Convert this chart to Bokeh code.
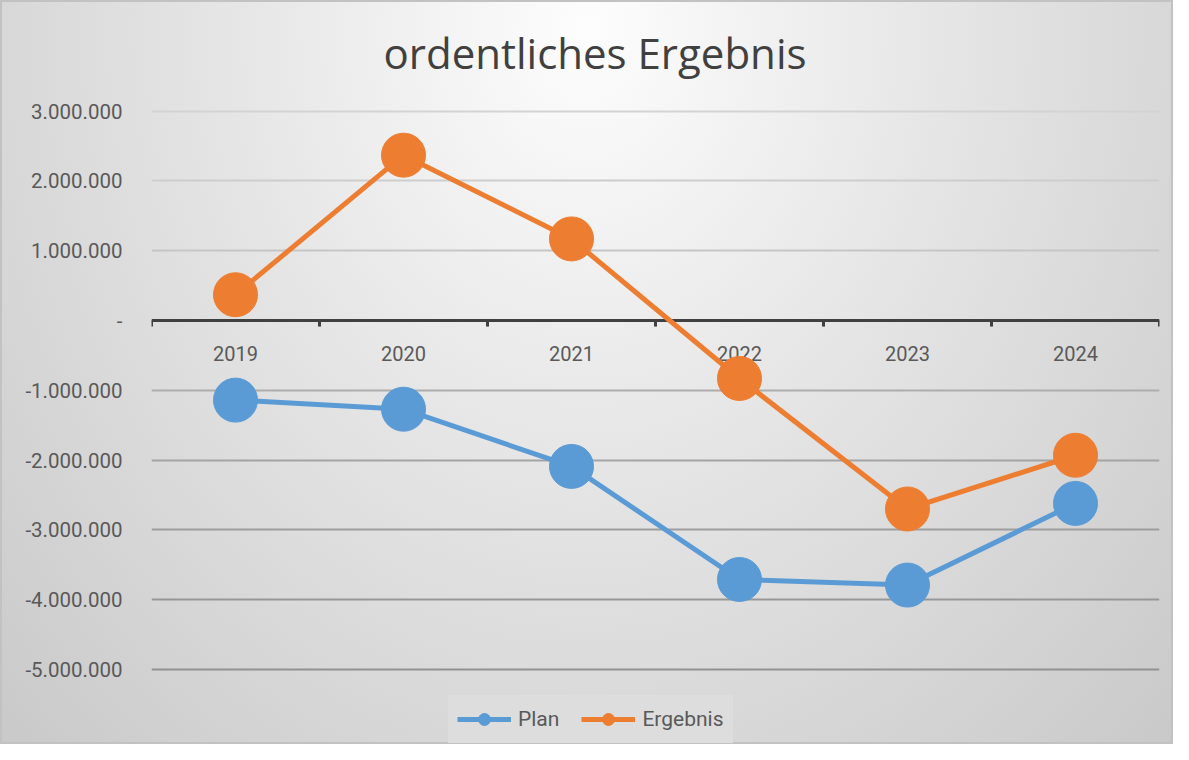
from bokeh.plotting import figure
from bokeh.models import Range1d, FixedTicker, Grid, Span, Legend, LegendItem, ColumnDataSource
from bokeh.core.properties import value
from bokeh.embed import file_html
from bokeh.resources import INLINE

# ---------------- data ----------------
years = ["2019", "2020", "2021", "2022", "2023", "2024"]
plan = [-1140000, -1270000, -2090000, -3710000, -3790000, -2620000]
ergebnis = [370000, 2370000, 1170000, -830000, -2700000, -1930000]

y_ticks = [3000000, 2000000, 1000000, 0, -1000000, -2000000, -3000000, -4000000, -5000000]
y_tick_labels = ["3.000.000", "2.000.000", "1.000.000", "-", "-1.000.000", "-2.000.000",
                 "-3.000.000", "-4.000.000", "-5.000.000"]
grid_colors = ["#d3d3d3", "#cdcdcd", "#c6c6c6", None, "#adadad", "#a4a4a4",
               "#9d9d9d", "#979797", "#929292"]

title_text = "ordentliches Ergebnis"
series_names = ["Plan", "Ergebnis"]
series_colors = ["#5B9BD5", "#ED7D31"]

# ---------------- layout ----------------
W, H = 1173, 744
axis_top_px, axis_bottom_px = 110.7, 669.0     # pixel rows of 3.000.000 and -5.000.000
frame_top_px = 100                              # frame starts a bit above the top gridline
ML, MR = 151, W - 1159
MT, MB = frame_top_px, 0
axis_min, axis_max = -5000000, 3000000
ppu = (axis_bottom_px - axis_top_px) / (axis_max - axis_min)
y_max = axis_max + (axis_top_px - frame_top_px) / ppu
y_min = axis_min - (H - axis_bottom_px) / ppu

n = len(years)
x_start, x_end = -0.5, n - 0.5

FONT = "Roboto"
LABEL_COLOR = "#595959"

p = figure(width=W, height=H, output_backend="svg", toolbar_location=None,
           x_range=Range1d(x_start, x_end), y_range=Range1d(y_min, y_max),
           min_border_left=ML, min_border_right=MR, min_border_top=MT, min_border_bottom=MB)

p.background_fill_alpha = 0
p.border_fill_alpha = 0
p.outline_line_color = None
p.styles = {
    "background": "radial-gradient(ellipse farthest-corner at 50% 4%, #fdfdfd 0%, #e6e6e6 42%, #c9c9c9 100%)",
    "box-shadow": "inset 0 0 0 2px #c2c2c2",
}

# title
p.title.text = title_text
p.title.align = "left"
p.title.offset = 232
p.title.text_font = "Open Sans"
p.title.text_font_style = "normal"
p.title.text_font_size = "42px"
p.title.text_color = "#404040"
p.title.standoff = 40

# axes
p.xaxis.visible = False
p.xgrid.visible = False
p.ygrid.visible = False
ya = p.yaxis[0]
ya.ticker = FixedTicker(ticks=y_ticks)
ya.major_label_overrides = {v: lab for v, lab in zip(y_ticks, y_tick_labels)}
ya.axis_line_color = None
ya.major_tick_line_color = None
ya.minor_tick_line_color = None
ya.major_tick_out = 0
ya.major_tick_in = 0
ya.minor_tick_out = 0
ya.major_label_standoff = 29
ya.major_label_text_font = FONT
ya.major_label_text_font_size = "20.5px"
ya.major_label_text_color = LABEL_COLOR

# gridlines (one per value, each with its own shade)
for v, c in zip(y_ticks, grid_colors):
    if c is None:
        continue
    p.add_layout(Grid(dimension=1, ticker=FixedTicker(ticks=[v]),
                      grid_line_color=c, grid_line_width=2))

# category axis drawn at zero
p.add_layout(Span(location=0, dimension="width", line_color="#404040",
                  line_width=3, level="underlay"))
bounds = [i - 0.5 for i in range(n + 1)]
tick_len = 6 / ppu
p.segment(x0=bounds, x1=bounds, y0=[0] * len(bounds), y1=[-tick_len] * len(bounds),
          line_color="#404040", line_width=3)
xs = list(range(n))
p.text(x=xs, y=[0] * n, text=years, text_align="center", text_baseline="top",
       y_offset=25, text_font=value(FONT), text_font_size="20px", text_color=LABEL_COLOR)

# series
items = []
for name, vals, col in zip(series_names, [plan, ergebnis], series_colors):
    src = ColumnDataSource(dict(x=xs, y=vals))
    ln = p.line("x", "y", source=src, line_color=col, line_width=5)
    sc = p.scatter("x", "y", source=src, size=44, fill_color=col, line_color=col)
    items.append(LegendItem(label=name, renderers=[ln, sc]))

legend = Legend(items=items, orientation="horizontal", location=(297, 1),
                background_fill_color="#dddddd", background_fill_alpha=1.0,
                border_line_color="#dddddd", border_line_width=1,
                padding=8, spacing=22, margin=0,
                glyph_width=54, glyph_height=30, label_standoff=7,
                label_text_font=FONT, label_text_font_size="21px",
                label_text_color=LABEL_COLOR)
p.add_layout(legend, "center")

open("out.html", "w").write(file_html(p, INLINE))
